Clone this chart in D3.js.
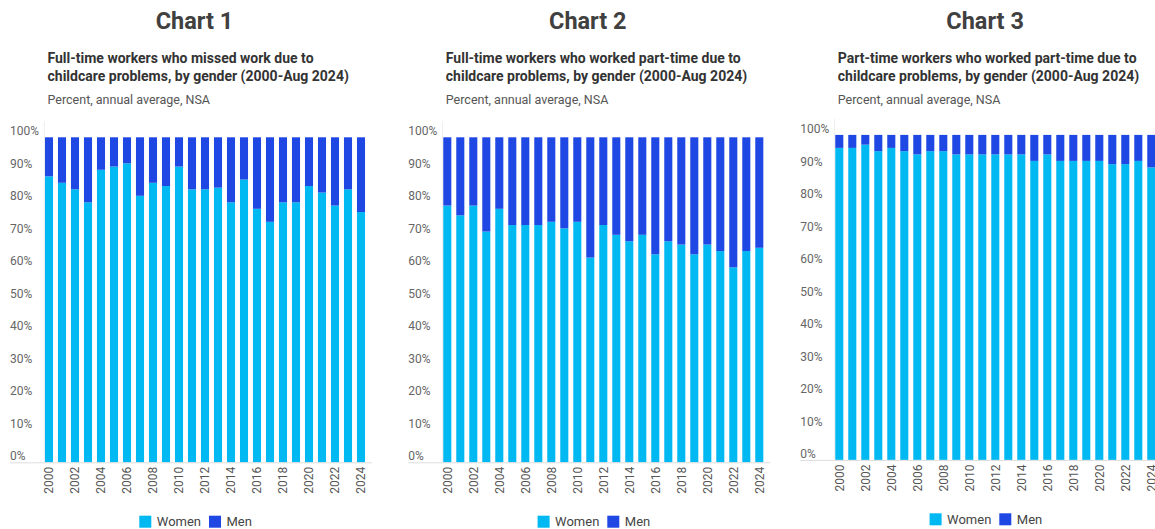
<!DOCTYPE html>
<html>
<head>
<meta charset="utf-8">
<script src="https://cdn.jsdelivr.net/npm/d3@7"></script>
<style>
  body { margin: 0; background: #fff; }
  svg { font-family: Roboto, "Noto Sans", sans-serif; display: block; }
</style>
</head>
<body>
<script>
// years on the x axis
var years = ["2000","2001","2002","2003","2004","2005","2006","2007","2008","2009","2010","2011","2012",
             "2013","2014","2015","2016","2017","2018","2019","2020","2021","2022","2023","2024"];
var yearTicks = ["2000","2002","2004","2006","2008","2010","2012","2014","2016","2018","2020","2022","2024"];
var pctTicks = [0, 10, 20, 30, 40, 50, 60, 70, 80, 90, 100];

// Chart 1: full-time workers who missed work
var women1 = [88, 86, 84, 80, 90, 91, 92, 82, 86, 85, 91, 84, 84, 84.5, 80, 87, 78, 74, 80, 80, 85, 83, 79, 84, 77];
var men1   = [12, 14, 16, 20, 10,  9,  8, 18, 14, 15,  9, 16, 16, 15.5, 20, 13, 22, 26, 20, 20, 15, 17, 21, 16, 23];

// Chart 2: full-time workers who worked part-time
var women2 = [79, 76, 79, 71, 78, 73, 73, 73, 74, 72, 74, 63, 73, 70, 68, 70, 64, 68, 67, 64, 67, 65, 60, 65, 66];
var men2   = [21, 24, 21, 29, 22, 27, 27, 27, 26, 28, 26, 37, 27, 30, 32, 30, 36, 32, 33, 36, 33, 35, 40, 35, 34];

// Chart 3: part-time workers who worked part-time
var women3 = [96, 96, 97, 95, 96, 95, 94, 95, 95, 94, 94, 94, 94, 94, 94, 92, 94, 92, 92, 92, 92, 91, 91, 92, 90];
var men3   = [ 4,  4,  3,  5,  4,  5,  6,  5,  5,  6,  6,  6,  6,  6,  6,  8,  6,  8,  8,  8,  8,  9,  9,  8, 10];

var seriesNames = ["Women", "Men"];
var colors = { Women: "#00b8f2", Men: "#1f47e3" };

var panels = [
  { x: 0,     dy: 0,    titleX: 194.5, title: "Chart 1", sub: ["Full-time workers who missed work due to", "childcare problems, by gender (2000-Aug 2024)"], women: women1, men: men1 },
  { x: 398.3, dy: 0,    titleX: 189.5, title: "Chart 2", sub: ["Full-time workers who worked part-time due to", "childcare problems, by gender (2000-Aug 2024)"], women: women2, men: men2 },
  { x: 790.3, dy: -2.4, titleX: 194.8, title: "Chart 3", sub: ["Part-time workers who worked part-time due to", "childcare problems, by gender (2000-Aug 2024)"], women: women3, men: men3 }
];

var width = 1155, height = 529;

var svg = d3.select("body").append("svg")
    .attr("width", width)
    .attr("height", height);

panels.forEach(function(p) {
    var g = svg.append("g").attr("transform", "translate(" + p.x + ",0)");

    // headings
    g.append("text")
        .attr("x", p.titleX).attr("y", 28.5)
        .attr("text-anchor", "middle")
        .attr("font-size", 23.5).attr("font-weight", 700)
        .attr("fill", "#404040")
        .text(p.title);

    g.selectAll(".sub").data(p.sub).enter().append("text")
        .attr("class", "sub")
        .attr("x", 47.5)
        .attr("y", function(d, i) { return 63 + i * 18; })
        .attr("font-size", 14).attr("font-weight", 700)
        .attr("fill", "#333")
        .text(function(d) { return d; });

    g.append("text")
        .attr("x", 47.5).attr("y", 104)
        .attr("font-size", 12.5)
        .attr("fill", "#555")
        .text("Percent, annual average, NSA");

    var y = d3.scaleLinear()
        .domain([0, 100])
        .range([462.3 + p.dy, 137.3 + p.dy]);

    var x = d3.scaleBand()
        .domain(years)
        .range([42.5, 367.5])
        .paddingInner(0.38)
        .paddingOuter(0.19);

    var rows = years.map(function(yr, i) {
        return { year: yr, Women: p.women[i], Men: p.men[i] };
    });
    var stacked = d3.stack().keys(seriesNames)(rows);

    // faint y axis line
    g.append("line")
        .attr("x1", 44.3).attr("x2", 44.3)
        .attr("y1", y(0)).attr("y2", y(100) - 16)
        .attr("stroke", "#eeeeee");

    // y labels, left aligned and sitting on top of the grid position
    var yAxis = g.append("g")
        .attr("transform", "translate(10,0)")
        .call(d3.axisRight(y).tickValues(pctTicks).tickSize(0).tickPadding(0)
            .tickFormat(function(d) { return d + "%"; }));
    yAxis.select(".domain").remove();
    yAxis.selectAll("text")
        .attr("dy", "-0.2em")
        .attr("font-size", 12)
        .attr("font-family", "Roboto, sans-serif")
        .attr("fill", "#666");

    // bars
    g.selectAll(".layer").data(stacked).enter().append("g")
        .attr("class", "layer")
        .attr("fill", function(d) { return colors[d.key]; })
      .selectAll("rect").data(function(d) { return d; }).enter().append("rect")
        .attr("x", function(d) { return x(d.data.year); })
        .attr("width", x.bandwidth())
        .attr("y", function(d) { return y(d[1]); })
        .attr("height", function(d) { return y(d[0]) - y(d[1]); });

    // baseline
    g.append("line")
        .attr("x1", 10).attr("x2", 372)
        .attr("y1", y(0) + 0.5).attr("y2", y(0) + 0.5)
        .attr("stroke", "#dddddd");

    // x labels, rotated
    var xAxis = g.append("g")
        .attr("transform", "translate(0," + y(0) + ")")
        .call(d3.axisBottom(x).tickValues(yearTicks).tickSize(0));
    xAxis.select(".domain").remove();
    xAxis.selectAll("text")
        .attr("transform", "rotate(-90)")
        .attr("text-anchor", "end")
        .attr("x", -4.5).attr("y", 0)
        .attr("dy", "0.35em")
        .attr("font-size", 12)
        .attr("font-family", "Roboto, sans-serif")
        .attr("fill", "#555");

    // legend
    var legend = g.append("g")
        .attr("transform", "translate(0," + (521.7 + p.dy) + ")");
    var legendX = { Women: 139.3, Men: 209 };
    seriesNames.forEach(function(k) {
        legend.append("rect")
            .attr("x", legendX[k]).attr("y", -6)
            .attr("width", 12).attr("height", 12)
            .attr("fill", colors[k]);
        legend.append("text")
            .attr("x", legendX[k] + 17.5).attr("y", 0)
            .attr("dy", "0.35em")
            .attr("font-size", 13)
            .attr("fill", "#444")
            .text(k);
    });
});
</script>
</body>
</html>
